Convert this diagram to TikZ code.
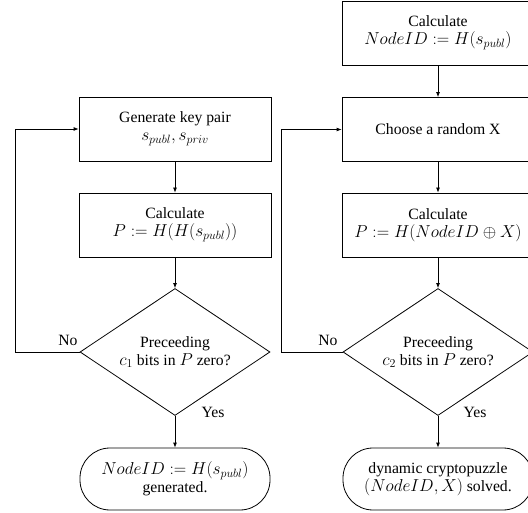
\documentclass[tikz,border=0pt]{standalone}
\usepackage{fontspec}
\setmainfont{Liberation Serif}
\DeclareMathSizes{15.7}{16.8}{11.8}{8.4}
\usetikzlibrary{shapes.geometric,arrows.meta}
\begin{document}
\begin{tikzpicture}[x=1pt,y=-1pt,
  font=\fontsize{15.7}{18}\selectfont,
  every path/.style={line width=0.8pt},
  stepbox/.style={draw, minimum width=192pt, minimum height=64pt, align=center, inner sep=2pt},
  termbox/.style={draw, rounded corners=30pt, minimum width=190pt, minimum height=62pt, align=center, inner sep=2pt},
  decbox/.style={draw, diamond, aspect=1.5, minimum width=190pt, minimum height=127pt, inner sep=0pt, align=center},
  arr/.style={-{Latex[length=5pt,width=4pt]}},
  lbl/.style={inner sep=0pt}]
\useasboundingbox (0,0) rectangle (528,513);
% left column
\node[stepbox] (g1) at (175,129) {Generate key pair\\$s_{publ}, s_{priv}$};
\node[stepbox] (c1) at (175,225) {Calculate\\$P := H(H(s_{publ}))$};
\node[decbox] (d1) at (175,352) {Preceeding\\$c_1$ bits in $P$ zero?};
\node[termbox] (t1) at (175,479) {$NodeID := H(s_{publ})$\\generated.};
\coordinate (l1) at (15,352);
\draw[arr] (g1) -- (c1);
\draw[arr] (c1) -- (d1);
\draw[arr] (d1) -- (t1);
\draw[arr] (d1.west) -- (l1) |- (g1.west);
\node[lbl] (no1) at (68,340) {No};
\node[lbl] (yes1) at (213,412) {Yes};
% right column
\node[stepbox] (n2) at (438,33) {Calculate\\$NodeID := H(s_{publ})$};
\node[stepbox] (g2) at (438,129.5) {Choose a random X};
\node[stepbox] (c2) at (438,225) {Calculate\\$P := H(NodeID \oplus X)$};
\node[decbox] (d2) at (438,352) {Preceeding\\$c_2$ bits in $P$ zero?};
\node[termbox] (t2) at (438,479) {dynamic cryptopuzzle\\$(NodeID, X)$ solved.};
\coordinate (l2) at (281,352);
\draw[arr] (n2) -- (g2);
\draw[arr] (g2) -- (c2);
\draw[arr] (c2) -- (d2);
\draw[arr] (d2) -- (t2);
\draw[arr] (d2.west) -- (l2) |- (g2.west);
\node[lbl] (no2) at (328,340) {No};
\node[lbl] (yes2) at (475,412) {Yes};
\end{tikzpicture}
\end{document}
